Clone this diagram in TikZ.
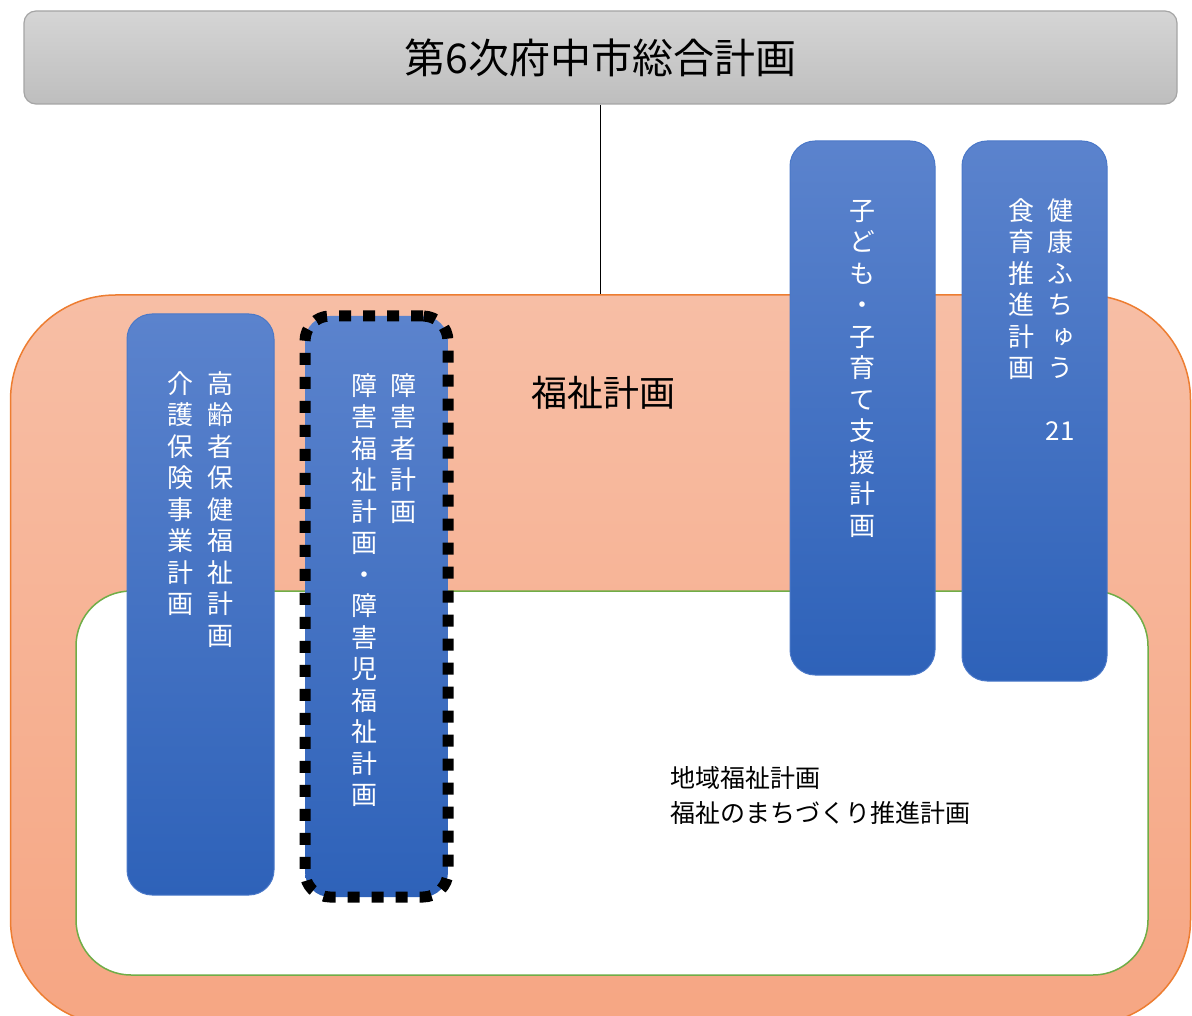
\documentclass[tikz,border=0pt]{standalone}
\usepackage{fontspec}
\newfontfamily\cjk{Noto Sans CJK JP}
\newfontfamily\cjkv[RawFeature=+vert]{Noto Sans CJK JP}
\newcommand\vs{\rule[-0.12em]{0pt}{1em}}
\definecolor{grayTop}{HTML}{D5D5D5}
\definecolor{grayBot}{HTML}{BEBEBE}
\definecolor{grayLine}{HTML}{A5A5A5}
\definecolor{orTop}{HTML}{F7BEA5}
\definecolor{orBot}{HTML}{F6A683}
\definecolor{orLine}{HTML}{ED7D31}
\definecolor{grLine}{HTML}{70AD47}
\definecolor{blTop}{HTML}{5B83CD}
\definecolor{blBot}{HTML}{2E62B9}
\definecolor{blLine}{HTML}{4A78C8}
\begin{document}
\begin{tikzpicture}[x=1pt,y=-1pt,
  titlebox/.style={draw=grayLine, line width=1.2pt, top color=grayTop, bottom color=grayBot,
    rounded corners=12pt, minimum width=1153pt, minimum height=93pt, inner sep=0pt,
    font=\cjk\fontsize{41}{41}\selectfont},
  welfarebox/.style={draw=orLine, line width=1.5pt, top color=orTop, bottom color=orBot,
    rounded corners=105pt, minimum width=1180pt, minimum height=730pt, inner sep=0pt},
  localbox/.style={draw=grLine, line width=1.5pt, fill=white,
    rounded corners=55pt, minimum width=1072pt, minimum height=384pt, inner sep=0pt},
  planbox/.style={draw=blLine, line width=1pt, top color=blTop, bottom color=blBot,
    rounded corners=25pt, inner sep=0pt},
  dotbox/.style={draw=black, line width=11pt, dash pattern=on 12pt off 12pt,
    top color=blTop, bottom color=blBot, rounded corners=25pt, inner sep=0pt},
  vcol/.style={anchor=north, align=center, inner sep=0pt, text=white,
    font=\cjkv\fontsize{26}{31.5}\selectfont},
  label/.style={inner sep=0pt, text=black}
]
\useasboundingbox (0,0) rectangle (1192,1016);
\begin{scope}
\clip (0,0) rectangle (1192,1016);
\node[welfarebox] (welfare) at (600.5,660) {};
\end{scope}
\node[localbox] (local) at (612,783) {};

\node[titlebox] (title) at (600.5,57.5) {第6次府中市総合計画};
\draw[black, line width=1.2pt] (title.south) -- (welfare.north);

\node[label, font=\cjk\fontsize{36}{36}\selectfont] (fukushi) at (603,393) {福祉計画};
\node[label, anchor=west, align=left, font=\cjk\fontsize{25}{35}\selectfont] (chiiki) at (670,795)
  {地域福祉計画\\福祉のまちづくり推進計画};

% blue plan boxes
\node[planbox, minimum width=147pt, minimum height=581pt] (elder) at (200.5,604.5) {};
\node[dotbox, minimum width=143pt, minimum height=581pt] (disab) at (376.5,606.5) {};
\node[planbox, minimum width=145pt, minimum height=534pt] (child) at (862.5,408) {};
\node[planbox, minimum width=145pt, minimum height=540pt] (health) at (1034.5,411) {};

% vertical texts
\node[vcol] (elderA) at (220,370) {\vs 高\\齢\\者\\保\\健\\福\\祉\\計\\画};
\node[vcol] (elderB) at (180,370) {\vs 介\\護\\保\\険\\事\\業\\計\\画};
\node[vcol] (disabA) at (403,372) {\vs 障\\害\\者\\計\\画};
\node[vcol] (disabB) at (364,372) {\vs 障\\害\\福\\祉\\計\\画\\・\\障\\害\\児\\福\\祉\\計\\画};
\node[vcol] (childA) at (862,197) {\vs 子\\ど\\も\\・\\子\\育\\て\\支\\援\\計\\画};
\node[vcol] (healthA) at (1060,197) {\vs 健\\康\\ふ\\ち\\ゅ\\う};
\node[vcol] (healthB) at (1021,197) {\vs 食\\育\\推\\進\\計\\画};
\node[label, text=white, font=\cjk\fontsize{26}{26}\selectfont] (num21) at (1060,431) {21};
\end{tikzpicture}
\end{document}
